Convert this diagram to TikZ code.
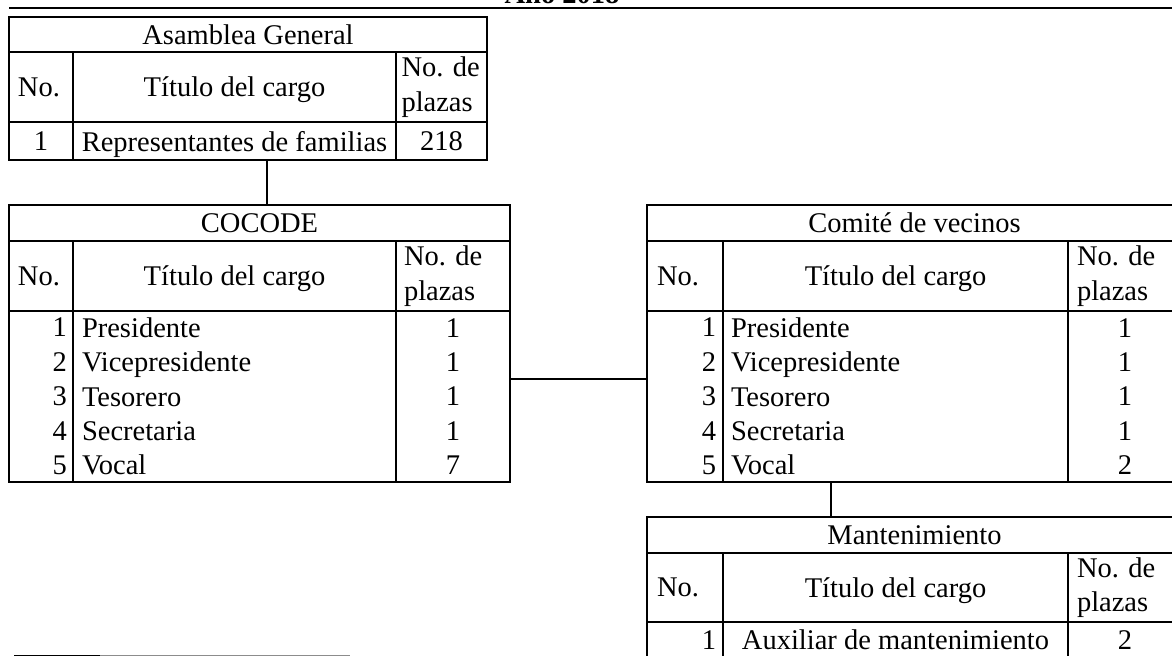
\documentclass[tikz,border=0pt]{standalone}
\usepackage{fontspec}
\setmainfont{Liberation Serif}
\usetikzlibrary{positioning,calc}
\newcommand{\tblfont}{\fontsize{14.25}{17.2}\selectfont}
\frenchspacing

\begin{document}
\begin{tikzpicture}
[x=0.5pt,y=-0.5pt,
cell/.style 2 args={draw,line width=0.75pt,inner sep=0pt,outer sep=0pt,anchor=north west,
  minimum width=#1,minimum height=#2,font=\tblfont},
lft/.style={align=left,text width=#1},
rgt/.style={align=right,text width=#1},
ctr/.style={align=center},
flat/.style={text depth=0pt},
link/.style={line width=0.75pt},
rule/.style={line width=1.2pt}
]
\useasboundingbox (0,0) rectangle (1172,656);
\clip (0,0) rectangle (1172,656);
%% heading
\node[font=\tblfont\bfseries,anchor=base] (year) at (562,3.5) {Año 2018};
\draw[rule] (9,8) -- (1185,8);
%%
%% Asamblea General
\node[cell={239pt}{17.5pt}] (asmTitle) at (9,17) {Asamblea General};
\node[cell={32pt}{35pt},lft=23pt] (asmNoH) at (asmTitle.south west) {No.};
\node[cell={161.5pt}{35pt},flat] (asmCargoH) at (asmNoH.north east) {Título del cargo};
\node[cell={45.5pt}{35pt},lft=40pt] (asmPlzH) at (asmCargoH.north east) {No.~de\\plazas};
\node[cell={32pt}{19pt}] (asmNo) at (asmNoH.south west) {1};
\node[cell={161.5pt}{19pt},flat] (asmCargo) at (asmNo.north east) {Representantes de familias};
\node[cell={45.5pt}{19pt}] (asmPlz) at (asmCargo.north east) {218};
%%
%% COCODE
\node[cell={250.5pt}{18pt}] (cocTitle) at (9,205) {COCODE};
\node[cell={32pt}{35pt},lft=23pt] (cocNoH) at (cocTitle.south west) {No.};
\node[cell={161.5pt}{35pt},flat] (cocCargoH) at (cocNoH.north east) {Título del cargo};
\node[cell={57pt}{35pt},lft=49pt] (cocPlzH) at (cocCargoH.north east) {No.~de\\plazas};
\node[cell={32pt}{85.5pt},rgt=26pt] (cocNo) at (cocNoH.south west) {1\\2\\3\\4\\5};
\node[cell={161.5pt}{85.5pt},lft=152.5pt] (cocCargo) at (cocNo.north east)
{Presidente\\Vicepresidente\\Tesorero\\Secretaria\\Vocal};
\node[cell={57pt}{85.5pt},ctr] (cocPlz) at (cocCargo.north east) {1\\1\\1\\1\\7};
%%
%% Comite de vecinos
\node[cell={267.5pt}{18pt}] (vecTitle) at (647,205) {Comité de vecinos};
\node[cell={38pt}{35pt},lft=28pt] (vecNoH) at (vecTitle.south west) {No.};
\node[cell={172.5pt}{35pt},flat] (vecCargoH) at (vecNoH.north east) {Título del cargo};
\node[cell={57pt}{35pt},lft=48pt] (vecPlzH) at (vecCargoH.north east) {No.~de\\plazas};
\node[cell={38pt}{85.5pt},rgt=31pt] (vecNo) at (vecNoH.south west) {1\\2\\3\\4\\5};
\node[cell={172.5pt}{85.5pt},lft=164.5pt] (vecCargo) at (vecNo.north east)
{Presidente\\Vicepresidente\\Tesorero\\Secretaria\\Vocal};
\node[cell={57pt}{85.5pt},ctr] (vecPlz) at (vecCargo.north east) {1\\1\\1\\1\\2};
%%
%% Mantenimiento
\node[cell={267.5pt}{18pt}] (manTitle) at (647,517) {Mantenimiento};
\node[cell={38pt}{34.5pt},lft=28pt] (manNoH) at (manTitle.south west) {No.};
\node[cell={172.5pt}{34.5pt},flat] (manCargoH) at (manNoH.north east) {Título del cargo};
\node[cell={57pt}{34.5pt},lft=48pt] (manPlzH) at (manCargoH.north east) {No.~de\\plazas};
\node[cell={38pt}{18pt},rgt=31pt] (manNo) at (manNoH.south west) {1};
\node[cell={172.5pt}{18pt}] (manCargo) at (manNo.north east) {Auxiliar de mantenimiento};
\node[cell={57pt}{18pt}] (manPlz) at (manCargo.north east) {2};
%%
%% links
\coordinate (linkAC) at (267,0);
\draw[link] (asmCargo.south -| linkAC) -- (cocTitle.north -| linkAC);
\coordinate (linkCV) at (0,379);
\draw[link] (cocPlz.east |- linkCV) -- (vecNo.west |- linkCV);
\coordinate (linkVM) at (831,0);
\draw[link] (vecCargo.south -| linkVM) -- (manTitle.north -| linkVM);
%%
%% foot rule
\draw[line width=0.75pt] (14,655.5) -- (100,655.5);
\draw[line width=0.75pt,black!45] (100,655.5) -- (350,655.5);
\end{tikzpicture}
\end{document}
